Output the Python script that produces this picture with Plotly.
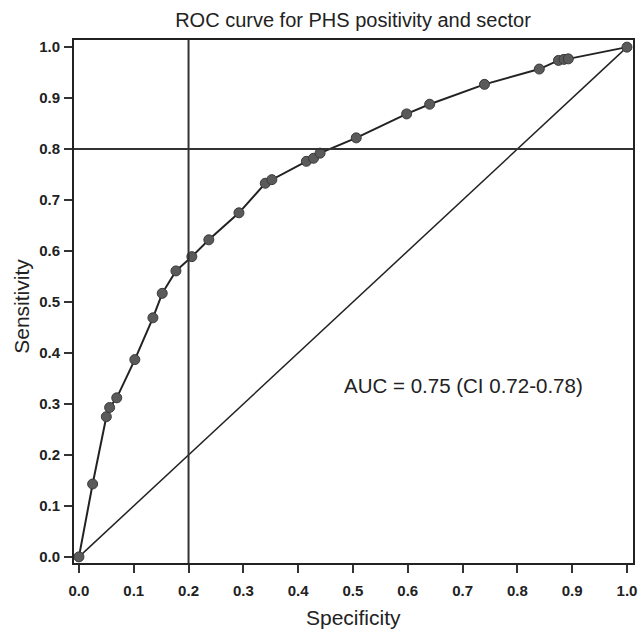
import plotly.graph_objects as go

specificity = [0.0, 0.025, 0.050, 0.056, 0.069, 0.102, 0.135, 0.152, 0.177, 0.206,
               0.237, 0.292, 0.340, 0.352, 0.415, 0.428, 0.440, 0.506, 0.598, 0.640,
               0.740, 0.840, 0.875, 0.885, 0.893, 1.0]
sensitivity = [0.0, 0.143, 0.275, 0.293, 0.312, 0.387, 0.469, 0.517, 0.561, 0.589,
               0.622, 0.675, 0.733, 0.740, 0.776, 0.782, 0.792, 0.822, 0.869, 0.888,
               0.927, 0.957, 0.974, 0.976, 0.977, 1.0]
tick_vals = [0.0, 0.1, 0.2, 0.3, 0.4, 0.5, 0.6, 0.7, 0.8, 0.9, 1.0]
tick_text = ["0.0", "0.1", "0.2", "0.3", "0.4", "0.5", "0.6", "0.7", "0.8", "0.9", "1.0"]
cut_spec = 0.2
cut_sens = 0.8
auc_label = "AUC = 0.75 (CI 0.72-0.78)"

FONT = "Liberation Sans, Arial, Helvetica"

fig = go.Figure()
fig.add_trace(go.Scatter(x=[0, 1], y=[0, 1], mode="lines",
                         line=dict(color="#222222", width=1.5), hoverinfo="skip"))
fig.add_trace(go.Scatter(x=specificity, y=sensitivity, mode="lines+markers",
                         line=dict(color="#222222", width=2),
                         marker=dict(size=10, color="#5a5a5a", line=dict(color="#3a3a3a", width=1))))

fig.add_vline(x=cut_spec, line=dict(color="#333333", width=2))
fig.add_hline(y=cut_sens, line=dict(color="#333333", width=2))

fig.add_annotation(x=0.701, y=0.337, text=auc_label, showarrow=False,
                   font=dict(family=FONT, size=20.5, color="#222222"))

# axis titles
fig.add_annotation(x=0.5, xref="paper", y=-0.104, yref="paper", yanchor="middle",
                   text="Specificity", showarrow=False,
                   font=dict(family=FONT, size=21, color="#222222"))
fig.add_annotation(x=-0.093, xref="paper", y=0.49, yref="paper", xanchor="center",
                   yanchor="middle", textangle=-90, text="Sensitivity", showarrow=False,
                   font=dict(family=FONT, size=21, color="#222222"))

axis_common = dict(
    tickvals=tick_vals, ticktext=tick_text, ticks="outside", ticklen=8, tickwidth=2,
    tickcolor="#333333", showline=True, linecolor="#222222", linewidth=2, mirror=True,
    showgrid=False, zeroline=False,
    tickfont=dict(family=FONT, size=15, color="#222222", weight="bold"),
)

fig.update_layout(
    width=642, height=630,
    margin=dict(l=74, r=5, t=40, b=67),
    plot_bgcolor="white", paper_bgcolor="white",
    showlegend=False,
    title=dict(text="ROC curve for PHS positivity and sector", x=353 / 642, xanchor="center",
               xref="container", y=1 - 20 / 630, yref="container", yanchor="middle",
               font=dict(family=FONT, size=20, color="#222222")),
    xaxis=dict(range=[-0.009, 1.011], ticklabelstandoff=5, **axis_common),
    yaxis=dict(range=[-0.012, 1.014], ticklabelstandoff=1, **axis_common),
)

fig.write_html("out.html")
